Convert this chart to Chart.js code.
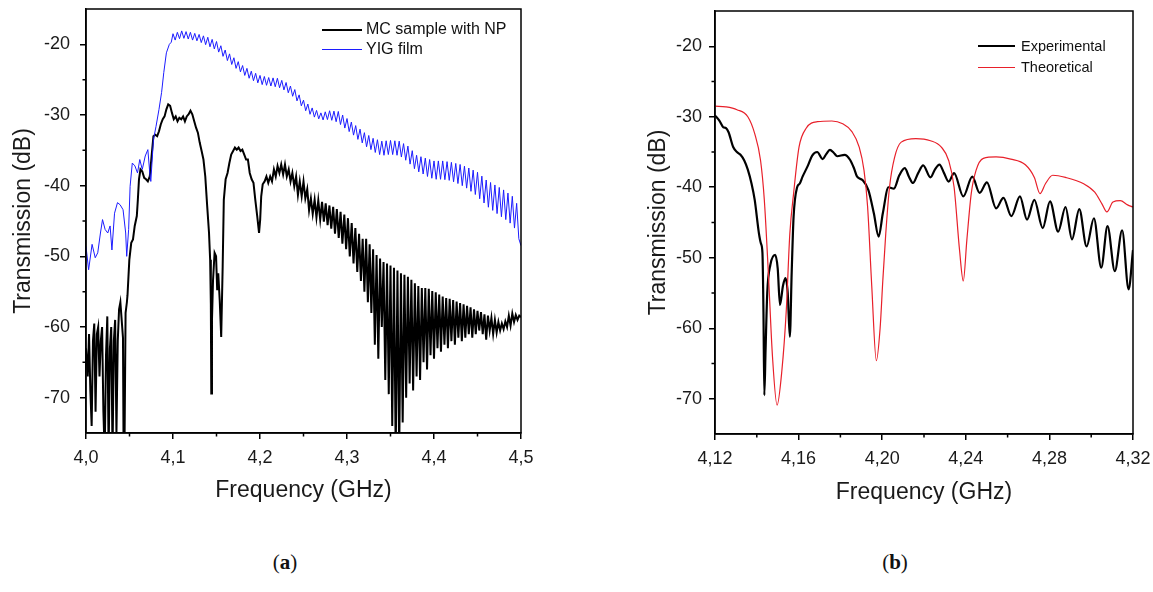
<!DOCTYPE html>
<html>
<head>
<meta charset="utf-8">
<script src="https://cdn.jsdelivr.net/npm/chart.js@4.4.1/dist/chart.umd.min.js"></script>
<style>
  html, body { margin: 0; padding: 0; background: #fff; }
  body { width: 1153px; height: 592px; position: relative; overflow: hidden; font-family: 'Liberation Sans', Arial, sans-serif; }
  canvas { position: absolute; top: 0; }
  #ca { left: 0; }
  #cb { left: 600px; }
  .leg { position: absolute; color: #111; white-space: nowrap; }
  .legline { position: absolute; }
  .cap { position: absolute; font-family: 'Liberation Serif', 'DejaVu Serif', serif; font-size: 21px; color: #111; transform: translate(-50%, -50%); }
  .cap b { font-weight: bold; }
</style>
</head>
<body>
<canvas id="ca" width="560" height="510"></canvas>
<canvas id="cb" width="553" height="510"></canvas>

<div class="legline" style="left:322px;top:28.5px;width:40px;border-top:2.5px solid #000;"></div>
<div class="leg" style="left:366px;top:19px;font-size:16px;line-height:20px;">MC sample with NP</div>
<div class="legline" style="left:322px;top:48.5px;width:40px;border-top:1px solid #1c1cff;"></div>
<div class="leg" style="left:366px;top:39px;font-size:16px;line-height:20px;">YIG film</div>

<div class="legline" style="left:978px;top:45px;width:37px;border-top:2.5px solid #000;"></div>
<div class="leg" style="left:1021px;top:37px;font-size:14.5px;line-height:18px;">Experimental</div>
<div class="legline" style="left:978px;top:66.5px;width:37px;border-top:1px solid #e8202a;"></div>
<div class="leg" style="left:1021px;top:58px;font-size:14.5px;line-height:18px;">Theoretical</div>

<div class="cap" style="left:285px;top:562px;">(<b>a</b>)</div>
<div class="cap" style="left:895px;top:562px;">(<b>b</b>)</div>

<script>
// ---------- Panel (a) data ----------
const xTicksA = [4.0, 4.1, 4.2, 4.3, 4.4, 4.5];
const xMinorA = [4.05, 4.15, 4.25, 4.35, 4.45];
const yTicks = [-70, -60, -50, -40, -30, -20];
const yMinor = [-65, -55, -45, -35, -25];

const mcSampleNP = [
[4.000,-63],[4.002,-67],[4.0035,-61],[4.005,-69],[4.0065,-74],[4.008,-62],[4.0095,-59.5],[4.011,-72],[4.0125,-61],[4.014,-60],[4.0155,-67],[4.017,-62],[4.0185,-60],[4.020,-72],[4.0215,-78],[4.023,-64],[4.0245,-58.5],[4.026,-78],[4.0275,-63],[4.029,-60],[4.0305,-78],[4.032,-62],[4.0335,-59],[4.035,-75],[4.0365,-62],[4.038,-57.5],[4.0395,-56.5],[4.041,-59],[4.0425,-61.5],[4.0432,-78],[4.0442,-78],[4.0455,-58],[4.047,-56.5],
[4.0477,-55.5],[4.0498,-50.5],[4.052,-48.1],[4.054,-47.6],[4.056,-45.7],[4.0584,-44.3],[4.0596,-42.0],[4.0609,-39.1],[4.0626,-37.7],[4.0647,-38.0],[4.0669,-38.9],[4.069,-39.1],[4.0711,-39.4],[4.0733,-38.7],[4.0754,-35.8],[4.0775,-33.0],[4.0796,-32.8],[4.0818,-33.0],[4.0839,-32.3],[4.086,-31.3],[4.0882,-30.6],[4.0903,-30.2],[4.0924,-29.2],[4.0945,-28.5],[4.0967,-28.7],[4.0988,-29.7],[4.1009,-30.6],[4.1031,-30.2],[4.1052,-30.9],[4.1073,-30.4],[4.1095,-30.6],[4.1116,-30.2],[4.1137,-30.9],[4.1158,-30.2],[4.118,-29.9],[4.1201,-29.4],[4.1222,-29.9],[4.1244,-30.9],[4.1265,-31.8],[4.1286,-32.5],[4.1307,-33.9],[4.1329,-35.1],[4.135,-36.3],[4.1371,-38.7],[4.1393,-42.9],[4.1414,-46.7],[4.1427,-50.5],[4.1435,-56.7],[4.144,-69.4],[4.1448,-59],[4.146,-53.4],[4.1478,-49.5],[4.1495,-50],[4.1508,-54.8],[4.152,-52.4],[4.1537,-56.2],[4.1554,-61.4],[4.1571,-51.4],[4.1584,-42],[4.1605,-39.1],[4.1627,-38.2],[4.1648,-36.8],[4.1669,-35.6],[4.1691,-35.1],[4.1712,-34.6],[4.1733,-34.9],[4.1754,-34.6],[4.1776,-35.1],[4.1797,-34.9],[4.1819,-35.6],[4.184,-36.3],[4.1861,-36.3],[4.1882,-38.2],[4.1904,-39.1],[4.1925,-39.6],[4.1946,-42],[4.1968,-44.3],[4.1989,-46.7],[4.2002,-44.8],[4.2014,-41.5],[4.2031,-39.8],[4.2053,-39.4],[4.2074,-38.7],[4.2095,-39.6],[4.2117,-38.7],[4.2138,-39.4],[4.216,-37.7],[4.2181,-38.7],[4.2202,-37.2],[4.2223,-38.2],[4.2244,-37.0],[4.2266,-38.4],[4.2287,-37.0],[4.2308,-38.7],[4.233,-37.7],[4.2351,-39.4],[4.2372,-38.2],[4.2394,-40.1],[4.2415,-38.7],[4.2436,-41.3],[4.2457,-39.4],[4.2479,-41.5],[4.25,-39.4],[4.2521,-41.8],[4.2543,-40.5],[4.2564,-43.5],[4.2585,-41.8],[4.2606,-44.0],[4.2628,-42.0],[4.2649,-44.5],[4.267,-42.1],[4.2692,-44.8],[4.2713,-42.3],[4.2734,-45.1],[4.2755,-42.5],[4.2777,-45.6],[4.2798,-42.8],[4.2819,-46.1],[4.2841,-43.0],[4.2862,-46.8],[4.2883,-43.3],[4.2905,-47.4],[4.2926,-43.7],[4.2947,-48.2],[4.2969,-44.1],[4.299,-49.0],[4.3011,-44.6],[4.3032,-50.0],[4.3054,-45.3],[4.3075,-51.0],[4.3096,-46.0],[4.3118,-52.2],[4.3139,-46.8],[4.316,-53.5],[4.318,-47.5],
[4.320,-55.0],[4.322,-47.5],[4.324,-56.5],[4.326,-48.3],[4.328,-58.0],[4.330,-49.0],[4.332,-62.5],[4.334,-49.8],[4.336,-64.5],[4.338,-50.3],[4.340,-60.0],[4.342,-50.8],[4.344,-67.5],[4.346,-51.0],[4.348,-69.5],[4.350,-51.3],[4.352,-74.0],[4.354,-51.6],[4.356,-78],[4.358,-52.0],[4.360,-78],[4.362,-52.4],[4.364,-73.5],[4.366,-52.6],[4.368,-70.0],[4.370,-52.9],[4.372,-68.0],[4.374,-53.3],[4.376,-69.0],[4.378,-53.8],[4.380,-67.0],[4.382,-54.2],[4.384,-67.5],[4.386,-54.5],[4.388,-65.0],[4.390,-54.5],[4.392,-66.0],[4.394,-54.6],[4.396,-64.0],[4.398,-54.9],[4.400,-64.5],[4.402,-55.1],[4.404,-63.0],[4.406,-55.4],[4.408,-63.5],[4.410,-55.7],[4.412,-62.5],[4.414,-55.9],[4.416,-63.0],[4.418,-56.0],[4.420,-62.0],[4.422,-56.2],[4.424,-62.5],[4.426,-56.4],[4.428,-61.5],[4.430,-56.6],[4.432,-62.0],[4.434,-56.8],[4.436,-61.5],[4.438,-57.0],[4.440,-61.0],[4.442,-57.2],[4.444,-61.5],[4.446,-57.5],[4.448,-61.0],[4.450,-57.7],[4.452,-60.5],[4.454,-57.9],[4.456,-61.0],[4.458,-58.2],[4.460,-61.8],[4.462,-58.4],[4.464,-60.5],[4.466,-58.7],[4.468,-61.0],[4.470,-59.0],[4.472,-60.8],[4.474,-59.3],[4.476,-60.5],[4.478,-59.5],[4.480,-60.3],[4.482,-59.2],[4.484,-60.0],[4.486,-58.4],[4.488,-59.8],[4.490,-58.1],[4.492,-59.3],[4.494,-58.3],[4.496,-59.0],[4.498,-58.4],[4.500,-58.6]
];

const yigFilm = [
[4.000,-48.6],[4.003,-51.9],[4.007,-48.3],[4.0106,-50.2],[4.0135,-49.5],[4.0166,-46.7],[4.019,-44.8],[4.022,-46.2],[4.025,-46.7],[4.0277,-45.7],[4.0298,-49.1],[4.0328,-43.9],[4.0362,-42.4],[4.0392,-42.7],[4.0426,-43.4],[4.0456,-46.7],[4.0468,-50.0],[4.049,-46.2],[4.0507,-40.1],[4.0532,-36.8],[4.0562,-37.2],[4.0592,-38.2],[4.0618,-36.3],[4.0647,-37.7],[4.0681,-35.8],[4.0711,-34.9],[4.0733,-38.2],[4.0745,-39.4],[4.0775,-33.5],[4.0805,-31.6],[4.0839,-29.2],[4.0869,-26.8],[4.0894,-24.0],[4.0924,-21.2],[4.0958,-20.0],[4.098,-19.7],
[4.1000,-18.5],[4.1025,-19.4],[4.1050,-18.3],[4.1075,-19.2],[4.1100,-18.1],[4.1125,-19.15],[4.1150,-18.2],[4.1175,-19.25],[4.1200,-18.3],[4.1225,-19.4],[4.1250,-18.45],[4.1275,-19.5],[4.1300,-18.6],[4.1325,-19.75],[4.1350,-18.8],[4.1375,-20.05],[4.1400,-19.0],[4.1425,-20.35],[4.1450,-19.3],[4.1475,-20.65],[4.1500,-19.6],[4.1525,-21.1],[4.1550,-20.2],[4.1575,-21.7],[4.1600,-20.8],[4.1625,-22.3],[4.1650,-21.35],[4.1675,-22.85],[4.1700,-21.9],[4.1725,-23.4],[4.1750,-22.45],[4.1775,-23.9],[4.1800,-23.0],[4.1825,-24.4],[4.1850,-23.4],[4.1875,-24.8],[4.1900,-23.8],[4.1925,-25.15],[4.1950,-24.1],[4.1975,-25.45],[4.2000,-24.4],[4.2025,-25.7],[4.2050,-24.55],[4.2075,-25.8],[4.2100,-24.7],[4.2125,-25.9],[4.2150,-24.75],[4.2175,-26.0],[4.2200,-24.8],[4.2225,-26.15],[4.2250,-25.1],[4.2275,-26.45],[4.2300,-25.4],[4.2325,-26.85],[4.2350,-25.9],[4.2375,-27.35],[4.2400,-26.4],[4.2425,-28.0],[4.2450,-27.15],[4.2475,-28.7],[4.2500,-27.9],[4.2525,-29.4],[4.2550,-28.45],[4.2575,-29.9],[4.2600,-29.0],[4.2625,-30.3],[4.2650,-29.35],[4.2675,-30.55],[4.2700,-29.7],[4.2725,-30.7],[4.2750,-29.55],[4.2775,-30.65],[4.2800,-29.4],[4.2825,-30.75],[4.2850,-29.45],[4.2875,-30.95],[4.2900,-29.5],[4.2925,-31.35],[4.2950,-30.0],[4.2975,-31.85],[4.3000,-30.5],[4.3025,-32.35],[4.3050,-31.0],[4.3075,-32.85],[4.3100,-31.5],[4.3125,-33.45],[4.3150,-32.0],[4.3175,-33.95],[4.3200,-32.5],[4.3225,-34.5],[4.3250,-32.9],[4.3275,-34.9],[4.3300,-33.3],[4.3325,-35.3],[4.3350,-33.5],[4.3375,-35.6],[4.3400,-33.7],[4.3425,-35.7],[4.3450,-33.65],[4.3475,-35.6],[4.3500,-33.6],[4.3525,-35.6],[4.3550,-33.65],[4.3575,-35.7],[4.3600,-33.7],[4.3625,-35.95],[4.3650,-34.05],[4.3675,-36.4],[4.3700,-34.4],[4.3725,-36.95],[4.3750,-35.05],[4.3775,-37.6],[4.3800,-35.7],[4.3825,-38.05],[4.3850,-35.9],[4.3875,-38.35],[4.3900,-36.1],[4.3925,-38.7],[4.3950,-36.3],[4.3975,-38.95],[4.4000,-36.5],[4.4025,-39.1],[4.4050,-36.5],[4.4075,-39.1],[4.4100,-36.5],[4.4125,-39.15],[4.4150,-36.6],[4.4175,-39.25],[4.4200,-36.7],[4.4225,-39.45],[4.4250,-36.85],[4.4275,-39.7],[4.4300,-37.0],[4.4325,-40.0],[4.4350,-37.25],[4.4375,-40.35],[4.4400,-37.5],[4.4425,-40.8],[4.4450,-37.8],[4.4475,-41.25],[4.4500,-38.1],[4.4525,-41.85],[4.4550,-38.65],[4.4575,-42.45],[4.4600,-39.2],[4.4625,-43.05],[4.4650,-39.55],[4.4675,-43.5],[4.4700,-39.9],[4.4725,-43.95],[4.4750,-40.25],[4.4775,-44.4],[4.4800,-40.6],[4.4825,-44.8],[4.4850,-41.05],[4.4875,-45.3],[4.4900,-41.5],[4.4925,-46.0],[4.4950,-42.5],[4.4975,-47.5],[4.5000,-48.5]
];

// ---------- Panel (b) data ----------
const xTicksB = [4.12, 4.16, 4.20, 4.24, 4.28, 4.32];
const xMinorB = [4.14, 4.18, 4.22, 4.26, 4.30];

const experimental = [
[4.1200,-29.8],[4.1220,-30.5],[4.1240,-31.5],[4.1252,-31.6],[4.1265,-32.2],[4.1287,-34.3],[4.1305,-35.0],[4.1322,-35.4],[4.1340,-36.2],[4.1357,-37.5],[4.1375,-39.5],[4.139,-41.8],[4.141,-46.5],[4.1420,-48.0],[4.1427,-49.3],[4.1432,-58],[4.1436,-69.5],[4.1442,-63],[4.1450,-55],[4.1465,-51],[4.1488,-49.6],[4.1500,-51.5],[4.1511,-56.7],[4.1525,-54],[4.1537,-52.9],[4.1548,-55],[4.1558,-61.2],[4.1567,-52],[4.1576,-44.2],[4.1593,-40],[4.1605,-39.5],[4.1619,-38.5],[4.1645,-36.9],[4.1665,-35.5],[4.1689,-35],[4.1715,-36],[4.1732,-35.3],[4.175,-34.7],[4.1768,-35.1],[4.1785,-35.6],[4.182,-35.4],[4.1846,-36.1],[4.1865,-37.3],[4.188,-38.5],[4.1907,-39],[4.1934,-40.4],[4.196,-43.7],[4.1983,-47],[4.2003,-43.7],[4.203,-40],[4.2056,-40.2],[4.2082,-38.3],[4.2108,-37.3],[4.2128,-38.5],[4.2147,-39.4],[4.2172,-38],[4.2196,-36.9],[4.2231,-38.6],[4.2252,-37.5],[4.2274,-36.8],[4.2296,-38],[4.2318,-39.2],[4.2344,-38],[4.2388,-41.3],[4.2431,-38.5],[4.2466,-40.8],[4.2501,-39.3],[4.2545,-43],[4.258,-41.5],[4.2618,-44.1],[4.2659,-41.3],[4.2693,-44.6],[4.2728,-41.8],[4.2768,-45.8],[4.2803,-42],[4.2842,-46.3],[4.2877,-42.8],[4.2908,-47.4],[4.2943,-43.1],[4.2978,-48.4],[4.3013,-44.4],[4.3048,-51.4],[4.3078,-45.5],[4.3113,-51.9],[4.3148,-46.1],[4.3179,-54.5],[4.32,-48.9]
];

const theoretical = [
[4.12,-28.5],[4.1252,-28.6],[4.1305,-29.0],[4.1357,-30.0],[4.139,-32.4],[4.1418,-36.2],[4.1436,-41.8],[4.1455,-52],[4.1475,-64],[4.1497,-70.9],[4.152,-66],[4.1541,-57.5],[4.1558,-46.6],[4.1576,-40.9],[4.1602,-34.3],[4.1637,-31.6],[4.169,-30.7],[4.1759,-30.6],[4.1811,-31],[4.1855,-32.1],[4.189,-34.3],[4.1913,-37.6],[4.193,-42.7],[4.195,-54],[4.1972,-64.6],[4.199,-60],[4.2003,-53.2],[4.2017,-46.6],[4.2035,-40],[4.2059,-35.8],[4.2091,-33.6],[4.2161,-33.1],[4.2231,-33.4],[4.2283,-34.3],[4.2318,-36.2],[4.2344,-40],[4.237,-48.9],[4.2388,-53.3],[4.2405,-47.5],[4.2426,-40.9],[4.2449,-37.6],[4.2484,-35.9],[4.2545,-35.7],[4.2615,-36],[4.2685,-36.8],[4.2728,-38.6],[4.2755,-40.9],[4.2781,-39.5],[4.2816,-38.3],[4.2877,-38.6],[4.2964,-39.5],[4.3017,-40.7],[4.3052,-42.4],[4.3075,-43.5],[4.3104,-42.1],[4.3139,-41.9],[4.3174,-42.5],[4.32,-42.8]
];

// ---------- helpers ----------
Chart.defaults.font.family = "'Liberation Sans', Arial, sans-serif";
Chart.defaults.color = '#1a1a1a';

const toXY = arr => arr.map(p => ({ x: p[0], y: p[1] }));

const framePlugin = {
  id: 'frame',
  afterDraw(chart, args, opts) {
    const { ctx, chartArea: a, scales: { x, y } } = chart;
    ctx.save();
    ctx.strokeStyle = '#000';
    ctx.lineWidth = 1.5;
    ctx.strokeRect(a.left, a.top, a.right - a.left, a.bottom - a.top);
    ctx.beginPath();
    opts.xMinor.forEach(v => { const px = x.getPixelForValue(v); ctx.moveTo(px, a.bottom); ctx.lineTo(px, a.bottom + 3.5); });
    opts.yMinor.forEach(v => { const py = y.getPixelForValue(v); ctx.moveTo(a.left, py); ctx.lineTo(a.left - 3.5, py); });
    ctx.stroke();
    ctx.restore();
  }
};

function makeChart(id, cfg) {
  const xs = {
    type: 'linear', min: cfg.xMin, max: cfg.xMax,
    afterBuildTicks: s => { s.ticks = cfg.xTicks.map(v => ({ value: v })); },
    afterFit: s => { s.height = cfg.xAxisH; s.paddingLeft = 0; s.paddingRight = 0; },
    grid: { display: true, drawOnChartArea: false, drawTicks: true, tickLength: 6, color: '#000', lineWidth: 1.5 },
    border: { display: true, color: '#000', width: 1.5 },
    ticks: { autoSkip: false, maxRotation: 0, padding: 8, font: { size: 18 }, color: '#1a1a1a',
      callback: v => v.toFixed(cfg.dec).replace('.', ',') },
    title: { display: true, text: 'Frequency (GHz)', font: { size: 23 }, color: '#1a1a1a', padding: { top: 0, bottom: cfg.xTitlePad } }
  };
  const ys = {
    type: 'linear', min: -75, max: -15,
    afterBuildTicks: s => { s.ticks = yTicks.map(v => ({ value: v })); },
    afterFit: s => { s.width = cfg.yAxisW; s.paddingTop = 0; s.paddingBottom = 0; },
    grid: { display: true, drawOnChartArea: false, drawTicks: true, tickLength: 6, color: '#000', lineWidth: 1.5 },
    border: { display: true, color: '#000', width: 1.5 },
    ticks: { autoSkip: false, padding: cfg.yTickPad, font: { size: 18 }, color: '#1a1a1a', callback: v => String(v) },
    title: { display: true, text: 'Transmission (dB)', font: { size: 23 }, color: '#1a1a1a', padding: { top: cfg.yTitlePad, bottom: 0 } }
  };
  return new Chart(document.getElementById(id), {
    type: 'line',
    data: { datasets: cfg.datasets },
    options: {
      responsive: false, animation: false, parsing: true, normalized: true,
      layout: { padding: cfg.pad },
      elements: { point: { radius: 0 } },
      plugins: { legend: { display: false }, tooltip: { enabled: false }, frame: { xMinor: cfg.xMinor, yMinor: yMinor } },
      scales: { x: xs, y: ys }
    },
    plugins: [framePlugin]
  });
}

makeChart('ca', {
  xMin: 4.0, xMax: 4.5, xTicks: xTicksA, xMinor: xMinorA, dec: 1,
  xAxisH: 77, yAxisW: 86, xTitlePad: 6, yTitlePad: 10, yTickPad: 10,
  pad: { left: 0, right: 39, top: 9, bottom: 0 },
  datasets: [
    { label: 'YIG film', data: toXY(yigFilm), borderColor: '#1c1cff', borderWidth: 1, tension: 0, clip: 0 },
    { label: 'MC sample with NP', data: toXY(mcSampleNP), borderColor: '#000', borderWidth: 2, tension: 0, clip: 0 }
  ]
});

makeChart('cb', {
  xMin: 4.12, xMax: 4.32, xTicks: xTicksB, xMinor: xMinorB, dec: 2,
  xAxisH: 76, yAxisW: 115, xTitlePad: 4, yTitlePad: 45, yTickPad: 7,
  pad: { left: 0, right: 20, top: 11, bottom: 0 },
  datasets: [
    { label: 'Theoretical', data: toXY(theoretical), borderColor: '#e8202a', borderWidth: 1.2, cubicInterpolationMode: 'monotone', clip: 0 },
    { label: 'Experimental', data: toXY(experimental), borderColor: '#000', borderWidth: 2.2, cubicInterpolationMode: 'monotone', clip: 0 }
  ]
});
</script>
</body>
</html>
